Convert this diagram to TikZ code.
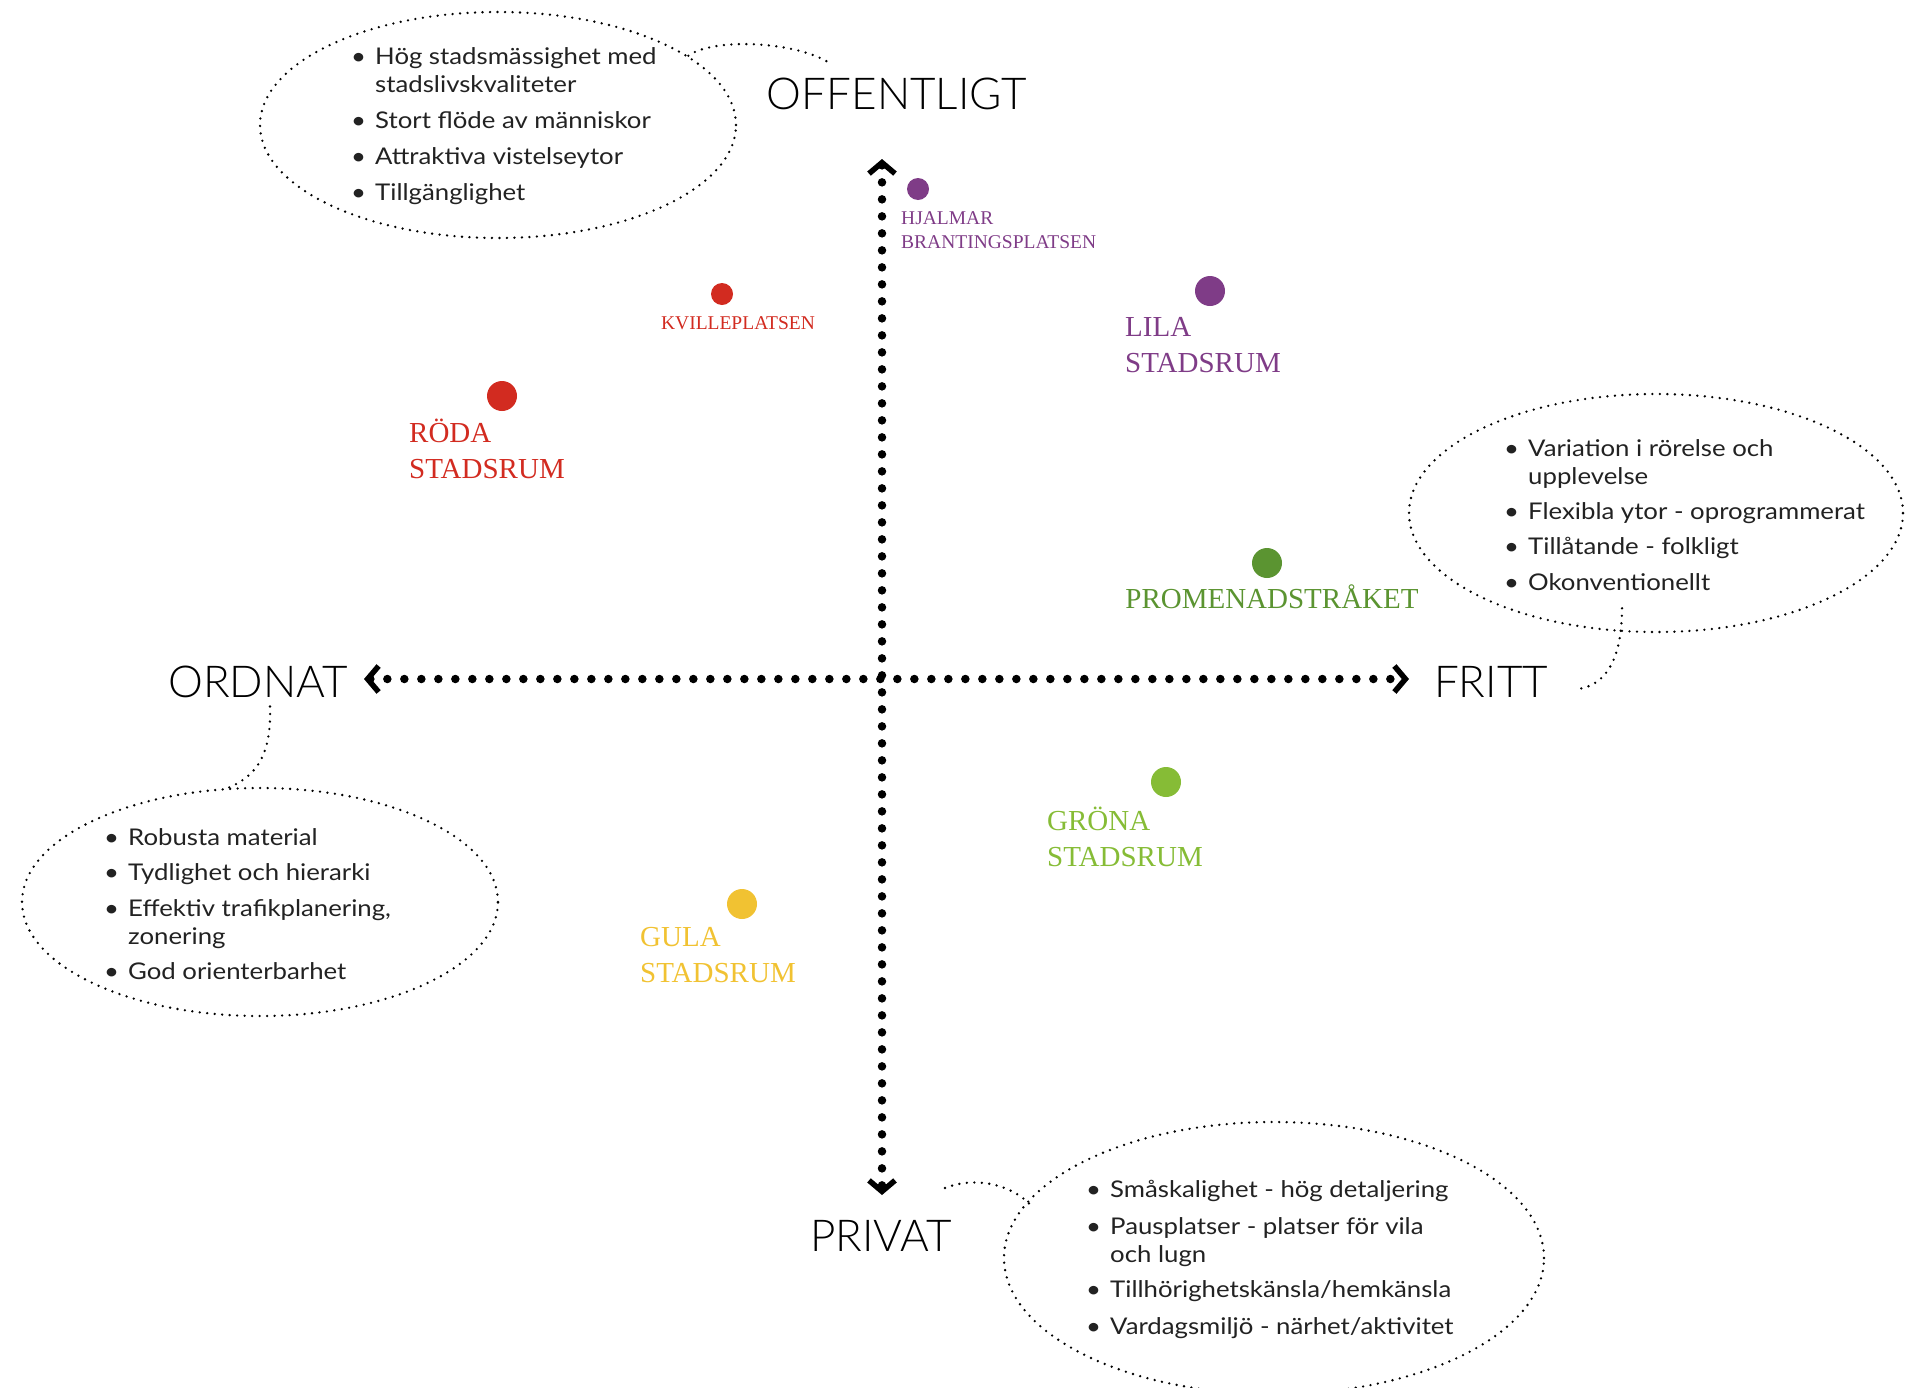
\documentclass[tikz,border=0pt]{standalone}
\usepackage{fontspec}
\setmainfont{Lato}[FakeStretch=1.12]
\newfontfamily\thinfont{Lato}[UprightFont=* Light]
\newfontfamily\serif{Liberation Serif}
\usepackage{xcolor}
\usepackage{tikz}
\usetikzlibrary{positioning,shapes.geometric,arrows.meta}

\definecolor{roda}{HTML}{D22B20}
\definecolor{lila}{HTML}{7F3C87}
\definecolor{gron}{HTML}{5B9431}
\definecolor{ljusgron}{HTML}{86BC36}
\definecolor{gul}{HTML}{F1C232}
\definecolor{texten}{HTML}{222222}

\newcommand{\bul}[1]{\makebox[24pt][l]{\textbullet}#1}
\newcommand{\ind}[1]{\hspace*{24pt}#1}

\tikzset{
  axis/.style={line width=8.5pt, line cap=round, dash pattern=on 0pt off 17pt,
    >={Straight Barb[length=11pt,width=26pt,line width=5.5pt]}},
  cloud/.style={ellipse, draw, line width=2.6pt, line cap=round,
    dash pattern=on 0pt off 7.5pt, inner sep=0pt},
  tail/.style={line width=2.6pt, line cap=round, dash pattern=on 0pt off 7.5pt},
  list/.style={align=left, anchor=north west, inner sep=0pt, text=texten,
    font=\fontsize{23}{28}\selectfont},
  pole/.style={font=\thinfont\fontsize{44}{50}\selectfont, inner sep=0pt, anchor=base},
  spot/.style={circle, fill=#1, inner sep=0pt, minimum size=30pt},
  place/.style={font=\serif\fontsize{29}{36}\selectfont, text=#1, align=left,
    inner sep=0pt, anchor=north west},
  smallplace/.style={font=\serif\fontsize{19.5}{24}\selectfont, text=#1, align=left,
    inner sep=0pt}
}

\begin{document}
\begin{tikzpicture}[x=1pt, y=-1pt]
\useasboundingbox (0,0) rectangle (1916,1387);

% axes
\coordinate (upp) at (882,159);
\coordinate (ned) at (882,1195);
\coordinate (vanster) at (364,679);
\coordinate (hoger) at (1409,679);
\draw[axis, <->] (upp) -- (ned);
\draw[axis, <->] (vanster) -- (hoger);

\node[pole] (offentligt) at (897,109) {OFFENTLIGT};
\node[pole] (privat) at (881,1251) {PRIVAT};
\node[pole] (ordnat) at (258,697) {ORDNAT};
\node[pole] (fritt) at (1491,697) {FRITT};

% places
\node[spot=lila, minimum size=22pt] (hjalmar) at (918,189) {};
\node[smallplace=lila, anchor=north west] (hjalmartext) at (901,211) {HJALMAR\\BRANTINGSPLATSEN};
\node[spot=roda, minimum size=22pt] (kville) at (722,294) {};
\node[smallplace=roda] (kvilletext) at (738,323) {KVILLEPLATSEN};
\node[spot=lila] (lila) at (1210,291) {};
\node[place=lila] (lilatext) at (1125,317) {LILA\\STADSRUM};
\node[spot=roda] (roda) at (502,396) {};
\node[place=roda] (rodatext) at (409,419) {RÖDA\\STADSRUM};
\node[spot=gron] (promenad) at (1267,563) {};
\node[place=gron, anchor=base] (promenadtext) at (1272,608) {PROMENADSTRÅKET};
\node[spot=ljusgron] (grona) at (1166,782) {};
\node[place=ljusgron] (gronatext) at (1047,807) {GRÖNA\\STADSRUM};
\node[spot=gul] (gula) at (742,904) {};
\node[place=gul] (gulatext) at (640,927) {GULA\\STADSRUM};

% clouds
\node[cloud, minimum width=476pt, minimum height=226pt] (pubcloud) at (498,125) {};
\node[cloud, minimum width=494pt, minimum height=238pt] (friacloud) at (1656,513) {};
\node[cloud, minimum width=476pt, minimum height=228pt] (ordcloud) at (260,902) {};
\node[cloud, minimum width=540pt, minimum height=272pt] (privcloud) at (1274,1258) {};

\node[list] (pubtext) at (351,47) {\bul{Hög stadsmässighet med}\\\ind{stadslivskvaliteter}\\[8pt]
  \bul{Stort flöde av människor}\\[8pt]\bul{Attraktiva vistelseytor}\\[8pt]\bul{Tillgänglighet}};
\node[list] (friatext) at (1504,439) {\bul{Variation i rörelse och}\\\ind{upplevelse}\\[7pt]
  \bul{Flexibla ytor - oprogrammerat}\\[7pt]\bul{Tillåtande - folkligt}\\[8pt]\bul{Okonventionellt}};
\node[list] (ordtext) at (104,828) {\bul{Robusta material}\\[7pt]\bul{Tydlighet och hierarki}\\[8pt]
  \bul{Effektiv trafikplanering,}\\\ind{zonering}\\[7pt]\bul{God orienterbarhet}};
\node[list] (privtext) at (1086,1180) {\bul{Småskalighet - hög detaljering}\\[9pt]
  \bul{Pausplatser - platser för vila}\\\ind{och lugn}\\[7pt]
  \bul{Tillhörighetskänsla/hemkänsla}\\[9pt]\bul{Vardagsmiljö - närhet/aktivitet}};

% tails
\draw[tail] (pubcloud.20) .. controls +(25,-18) and +(-35,-20) .. ([xshift=60pt,yshift=16pt]offentligt.north west);
\draw[tail] ([xshift=-34pt,yshift=25pt]friacloud.south) .. controls +(0,50) and +(25,-5) .. ([xshift=33pt,yshift=-7pt]fritt.east);
\draw[tail] ([xshift=12pt,yshift=-9pt]ordnat.south) .. controls +(2,55) and +(25,-10) .. ([xshift=-34pt,yshift=-2pt]ordcloud.north);
\draw[tail] ([xshift=63pt,yshift=7pt]ned) .. controls +(30,-12) and +(-20,-25) .. ([xshift=10pt,yshift=-4pt]privcloud.168);
\end{tikzpicture}
\end{document}
